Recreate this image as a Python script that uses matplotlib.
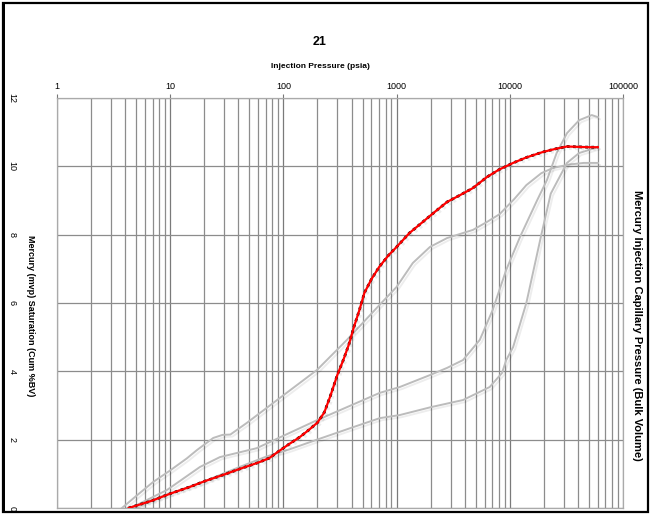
import numpy as np
import matplotlib.pyplot as plt
import matplotlib.patheffects as pe
from matplotlib.patches import Rectangle
from matplotlib.ticker import FixedLocator, NullFormatter

plt.rcParams['font.family'] = ['Liberation Sans', 'DejaVu Sans']

# main sample (red) - injection pressure (psia) vs saturation (%BV)
red_p = [4.3, 7, 10, 15, 20, 30, 40, 50, 60, 75, 90, 110, 140, 170, 200, 230, 260,
         300, 340, 380, 420, 470, 520, 600, 700, 850, 1000, 1300, 1700, 2200, 2800,
         3600, 4700, 6300, 8000, 10700, 14000, 19600, 26000, 32000, 40000, 50000, 60000]
red_s = [0, 0.22, 0.42, 0.62, 0.78, 0.98, 1.13, 1.24, 1.33, 1.46, 1.65, 1.85, 2.08,
         2.3, 2.5, 2.8, 3.28, 3.9, 4.35, 4.8, 5.3, 5.8, 6.3, 6.7, 7.05, 7.4, 7.64,
         8.05, 8.37, 8.68, 8.96, 9.15, 9.36, 9.69, 9.9, 10.1, 10.26, 10.42, 10.52,
         10.58, 10.57, 10.56, 10.56]

# other samples (grey)
g1_p = [3.75, 5, 7, 10, 14, 17.3, 24, 29, 34, 47.5, 93, 198, 364, 710, 1000, 1390,
        1970, 2790, 4730, 6270, 8130, 11000, 14000, 19000, 24000, 33000, 45000, 60000]
g1_s = [0, 0.35, 0.75, 1.1, 1.45, 1.7, 2.05, 2.14, 2.15, 2.49, 3.22, 4.04, 4.92, 5.95,
        6.47, 7.17, 7.64, 7.9, 8.14, 8.37, 8.6, 9.05, 9.45, 9.8, 9.95, 10.05, 10.1, 10.1]

g2_p = [4.5, 9.4, 18.3, 27.5, 58, 198, 710, 1065, 1970, 2790, 3860, 5430, 7050, 9300,
        12300, 17400, 21300, 26000, 32000, 41000, 53000, 60000]
g2_s = [0, 0.53, 1.2, 1.49, 1.75, 2.57, 3.37, 3.54, 3.89, 4.1, 4.33, 4.92, 5.79, 6.97,
        7.93, 9.0, 9.6, 10.4, 10.97, 11.35, 11.5, 11.44]

g3_p = [4.3, 10, 20, 41, 70, 114, 198, 400, 710, 1065, 2000, 3860, 6640, 8530, 9300,
        10700, 14000, 19000, 23000, 32000, 41000, 60000]
g3_s = [0, 0.42, 0.78, 1.2, 1.5, 1.72, 2.0, 2.35, 2.63, 2.72, 2.95, 3.16, 3.54, 3.95,
        4.33, 4.71, 6.0, 8.0, 9.2, 10.1, 10.39, 10.56]

x_ticks = [1, 10, 100, 1000, 10000, 100000]
x_labels = ['1', '10', '100', '1000', '10000', '100000']
y_ticks = [0, 2, 4, 6, 8, 10, 12]

fig = plt.figure(figsize=(6.5, 5.15), dpi=100)
ax = fig.add_axes([57 / 650, 1 - 508 / 515, 566 / 650, 410 / 515])

shadow = [pe.SimpleLineShadow(offset=(1.5, -1.5), alpha=0.07, shadow_color='k'),
          pe.Normal()]
for p, s in [(g1_p, g1_s), (g2_p, g2_s), (g3_p, g3_s)]:
    ax.plot(p, s, color='#bcbcbc', lw=1.4, path_effects=shadow, zorder=3)

ax.plot(red_p, red_s, color='black', lw=2.0, ls=(0, (1, 1.2)), zorder=4,
        path_effects=shadow)
ax.plot(red_p, red_s, color='#ff0000', lw=1.6, zorder=5)

ax.set_xscale('log')
ax.set_xlim(1, 100000)
ax.set_ylim(0, 12)

minor = [m * 10 ** e for e in range(0, 5) for m in range(2, 10)]
ax.xaxis.set_minor_locator(FixedLocator(minor))
ax.xaxis.set_minor_formatter(NullFormatter())
ax.set_xticks(x_ticks)
ax.set_xticklabels(x_labels)
ax.set_yticks(y_ticks)
ax.set_yticklabels([str(v) for v in y_ticks], rotation=-90, va='center')

ax.grid(which='major', axis='x', color='#7a7a7a', lw=0.9)
ax.grid(which='minor', axis='x', color='#8c8c8c', lw=0.9)
ax.grid(which='major', axis='y', color='#8c8c8c', lw=0.9)

ax.xaxis.tick_top()
ax.tick_params(axis='x', which='major', length=3, width=0.8, color='#777777',
               labelsize=6.5, pad=2)
ax.tick_params(axis='x', which='minor', length=0)
ax.tick_params(axis='y', length=0, labelsize=6.5, pad=29)
for sp in ax.spines.values():
    sp.set_color('#aaaaaa')
    sp.set_linewidth(0.9)

ax.set_ylabel('Mercury (mvp) Saturation (Cum %BV)', fontsize=6.5, fontweight='bold',
              rotation=-90)
ax.yaxis.set_label_coords(-0.055, 0.47)

fig.text(320 / 650, 1 - 42 / 515, '21', ha='center', va='center', fontsize=9,
         fontweight='bold')
fig.text(320 / 650, 1 - 66 / 515, 'Injection Pressure (psia)', ha='center',
         va='center', fontsize=6, fontweight='bold')
fig.text(637 / 650, 1 - 325 / 515, 'Mercury Injection Capillary Pressure (Bulk Volume)',
         ha='center', va='center', rotation=-90, fontsize=8, fontweight='bold')

# page border
fig.patches.append(Rectangle((0.005, 0.006), 0.992, 0.988, transform=fig.transFigure,
                             fill=False, edgecolor='black', lw=1.6))
fig.patches.append(Rectangle((0.004, 0.006), 0.004, 0.988, transform=fig.transFigure,
                             color='black', lw=0))

fig.savefig('out.png', dpi=100)
